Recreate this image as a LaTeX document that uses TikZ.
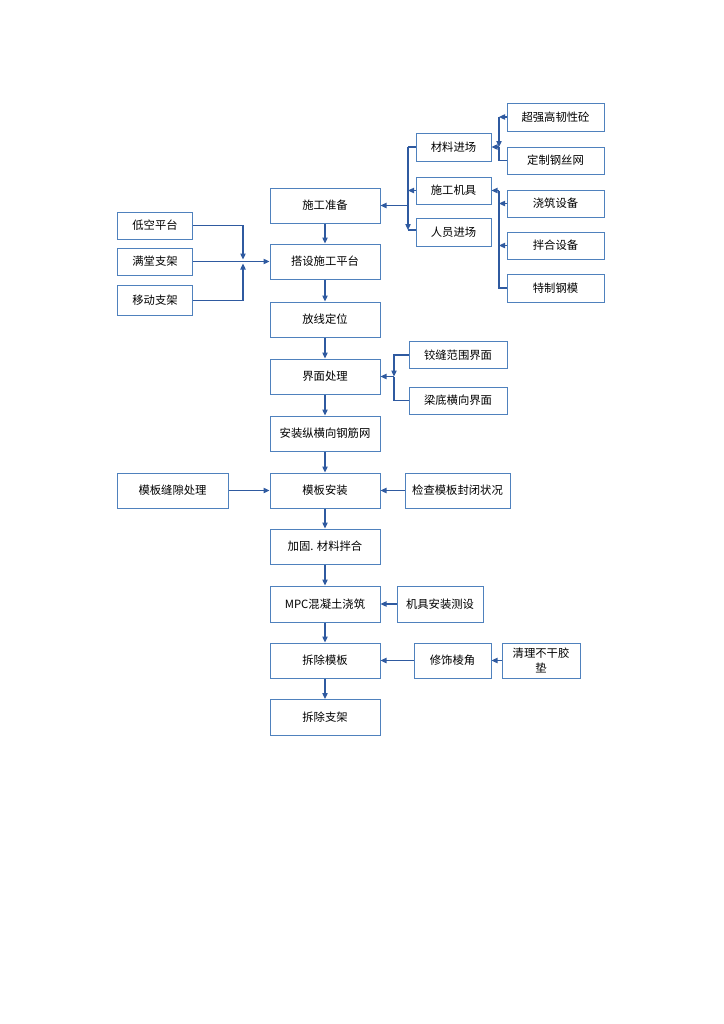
\documentclass[tikz,border=0pt]{standalone}
\usepackage{fontspec}
\usepackage{xcolor}
\usepackage{tikz}
\newfontfamily\cjk{Noto Sans CJK SC}
\usetikzlibrary{arrows.meta}
\definecolor{boxblue}{RGB}{79,129,189}
\definecolor{arrblue}{RGB}{47,90,160}

\begin{document}
\begin{tikzpicture}[x=0.75pt,y=0.75pt,yscale=-1,xscale=1,
  box/.style={draw=boxblue,line width=0.75,fill=white,inner sep=0.75pt,align=center,font=\cjk\fontsize{8.5}{11}\selectfont},
  wh/.style 2 args={minimum width=#1*0.75pt,minimum height=#2*0.75pt},
  conn/.style={draw=arrblue,line width=0.9},
  arr/.style={conn,-{Triangle[length=4.5pt,width=4pt]}}]
%set diagram page size
\path[use as bounding box] (0,0) rectangle (724,1024);

%Main column
\node[box,wh={110}{35}] (prep) at (325,205.5) {施工准备};
\node[box,wh={110}{35}] (platform) at (325,261.5) {搭设施工平台};
\node[box,wh={110}{35}] (layout) at (325,319.5) {放线定位};
\node[box,wh={110}{35}] (iface) at (325,376.5) {界面处理};
\node[box,wh={110}{35}] (rebar) at (325,433.5) {安装纵横向钢筋网};
\node[box,wh={110}{35}] (form) at (325,490.5) {模板安装};
\node[box,wh={110}{35}] (reinf) at (325,546.5) {加固. 材料拌合};
\node[box,wh={110}{36}] (pour) at (325,604) {MPC混凝土浇筑};
\node[box,wh={110}{35}] (strip) at (325,660.5) {拆除模板};
\node[box,wh={110}{36}] (unsup) at (325,717.5) {拆除支架};
\foreach \a/\b in {prep/platform,platform/layout,layout/iface,iface/rebar,rebar/form,form/reinf,reinf/pour,pour/strip,strip/unsup}
  \draw[arr] (\a) -- (\b);

%Supports
\node[box,wh={75}{27}] (lowplat) at (155,225.5) {低空平台};
\node[box,wh={75}{27}] (fullsup) at (155,261.5) {满堂支架};
\node[box,wh={75}{30}] (movsup) at (155,300.5) {移动支架};
\coordinate (jl) at (243,261.5);
\draw[arr,shorten >=1.5] (lowplat.east) -| (jl);
\draw[arr,shorten >=1.5] (movsup.east) -| (jl);
\draw[arr] (fullsup.east) -- (platform.west);

%Preparation inputs
\node[box,wh={75}{28}] (matin) at (453.5,147) {材料进场};
\node[box,wh={75}{27}] (mach) at (453.5,190.5) {施工机具};
\node[box,wh={75}{28}] (staff) at (453.5,232) {人员进场};
\coordinate (bAtop) at (408,147);
\coordinate (bAbot) at (408,230);
\coordinate (bA) at (408,205.5);
\draw[conn] (matin.west) -- (bAtop);
\draw[arr] (bAtop) -- (bAbot);
\draw[conn] (bAbot) -- (staff.west |- bAbot);
\draw[arr] (mach.west) -- (mach.west -| bAtop);
\draw[arr] (bA) -- (prep.east);

%Materials
\node[box,wh={97}{28}] (uhpc) at (555.5,117) {超强高韧性砼};
\node[box,wh={97}{27}] (mesh) at (555.5,160.5) {定制钢丝网};
\coordinate (bBtop) at (499,117);
\coordinate (bBj) at (499,147);
\draw[arr] (uhpc.west) -- (bBtop);
\draw[arr] (bBtop) -- (bBj);
\draw[conn] (mesh.west) -| (bBj);
\draw[arr] (bBj) -- (matin.east);

%Machinery
\node[box,wh={97}{27}] (pourdev) at (555.5,203.5) {浇筑设备};
\node[box,wh={97}{27}] (mixdev) at (555.5,245.5) {拌合设备};
\node[box,wh={97}{28}] (steelform) at (555.5,288) {特制钢模};
\coordinate (bCtop) at (499,190.5);
\draw[arr] (bCtop) -- (mach.east);
\draw[conn] (steelform.west) -| (bCtop);
\draw[arr] (pourdev.west) -- (pourdev.west -| bCtop);
\draw[arr] (mixdev.west) -- (mixdev.west -| bCtop);

%Interfaces
\node[box,wh={98}{27}] (hinge) at (458,355) {铰缝范围界面};
\node[box,wh={98}{27}] (beam) at (458,400.5) {梁底横向界面};
\coordinate (bD) at (394,376.5);
\draw[arr] (hinge.west) -| (bD);
\draw[conn] (beam.west) -| (bD);
\draw[arr] (bD) -- (iface.east);

%Formwork
\node[box,wh={111}{35}] (gap) at (172.5,490.5) {模板缝隙处理};
\node[box,wh={105}{35}] (check) at (457.5,490.5) {检查模板封闭状况};
\draw[arr] (gap) -- (form);
\draw[arr] (check) -- (form);

%Pouring and stripping
\node[box,wh={86}{36}] (mount) at (440,604) {机具安装测设};
\node[box,wh={77}{35}] (trim) at (452.5,660.5) {修饰棱角};
\node[box,wh={78}{35}] (clean) at (541,660.5) {清理不干胶\\垫};
\draw[arr] (mount) -- (pour);
\draw[arr] (trim) -- (strip);
\draw[arr] (clean) -- (trim);
\end{tikzpicture}
\end{document}
